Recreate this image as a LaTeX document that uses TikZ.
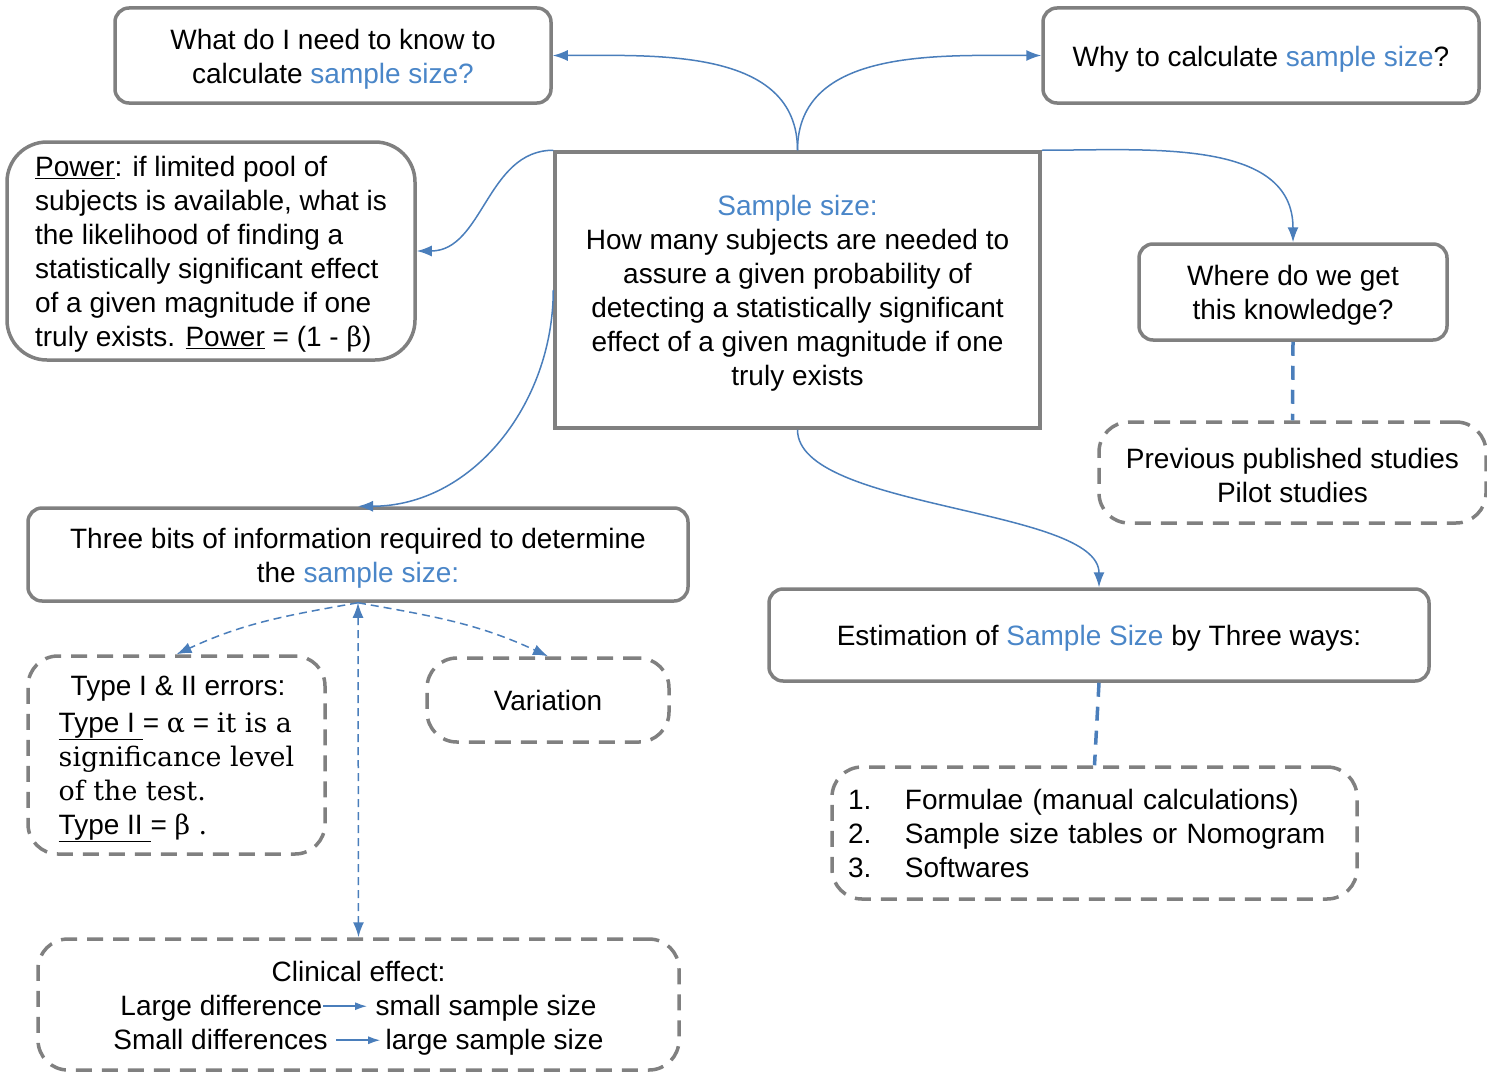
\documentclass[tikz,border=0pt]{standalone}
\usepackage{fontspec}
\setmainfont{Liberation Sans}
\newfontfamily\serifgreek{DejaVu Serif}[Scale=0.96]
\usetikzlibrary{arrows.meta,positioning}
\definecolor{sblue}{HTML}{4A86C8}
\definecolor{lblue}{HTML}{4A7EBB}
\definecolor{bgray}{HTML}{808080}
\newcommand{\blu}[1]{\textcolor{sblue}{#1}}
\newcommand{\hd}{\rule{0pt}{27pt}}
\newcommand{\rarr}{\tikz[baseline=-0.6ex]\draw[lblue,line width=1.5pt,-{Latex[length=12pt,width=8pt]}] (0pt,0pt) -- (44pt,0pt);}

\begin{document}
\begin{tikzpicture}[x=1pt,y=1pt,
    every node/.style={font=\fontsize{28}{34}\selectfont},
    qbox/.style={draw=bgray, line width=3.5pt, rounded corners=14pt, align=center, inner sep=0pt},
    dbox/.style={qbox, dash pattern=on 16pt off 10pt, rounded corners=30pt},
    link/.style={lblue, line width=1.5pt, -{Latex[length=15pt,width=11pt]}},
    dlink/.style={link, dash pattern=on 8pt off 5pt},
    tie/.style={lblue, line width=3.5pt, dash pattern=on 14pt off 10pt}]
    \useasboundingbox (0,0) rectangle (1487,-1073);

    % questions
    \node[qbox, minimum width=436pt, minimum height=95pt] (know) at (333,-55.5) {\hd What do I need to know to\\calculate \blu{sample size?}};
    \node[qbox, minimum width=436pt, minimum height=95pt] (why) at (1261,-55.5) {\hd Why to calculate \blu{sample size}?};
    \node[qbox, rounded corners=40pt, align=left, minimum width=408pt, minimum height=218pt] (power) at (211,-251)
        {\hd\underline{Power}: if limited pool of\\subjects is available, what is\\the likelihood of finding a\\statistically significant effect\\of a given magnitude if one\\truly exists. \underline{Power} = (1 - {\serifgreek β})};
    \node[draw=bgray, line width=3.5pt, align=center, minimum width=485pt, minimum height=276pt] (size) at (797.5,-290)
        {\hd\blu{Sample size:}\\How many subjects are needed to\\assure a given probability of\\detecting a statistically significant\\effect of a given magnitude if one\\truly exists};
    \node[qbox, minimum width=308pt, minimum height=96pt] (where) at (1293,-292) {\hd Where do we get\\this knowledge?};
    \node[dbox, minimum width=387pt, minimum height=101pt] (prev) at (1292.5,-472.5) {\hd Previous published studies\\Pilot studies};

    % what is needed
    \node[qbox, minimum width=660pt, minimum height=93pt] (bits) at (358,-554.5) {\hd Three bits of information required to determine\\the \blu{sample size:}};
    \node[qbox, minimum width=660pt, minimum height=92pt] (ways) at (1099,-635) {\hd Estimation of \blu{Sample Size} by Three ways:};
    \node[dbox, align=left, minimum width=297pt, minimum height=198pt] (errors) at (176.5,-755)
        {\hd\hspace*{12pt}Type I \& II errors:\\[3pt]\underline{Type I\ }= {\serifgreek α} = {\serifgreek it is a}\\{\serifgreek significance level}\\{\serifgreek of the test.}\\\underline{Type II\ }= {\serifgreek β .}};
    \node[dbox, minimum width=242pt, minimum height=84pt] (variation) at (548,-700) {Variation};
    \node[dbox, align=left, text width=493pt, inner xsep=16pt, minimum width=525pt, minimum height=132pt] (tools) at (1094.5,-833)
        {\makebox[57pt][l]{1.}Formulae (manual calculations)\\\makebox[57pt][l]{2.}Sample size tables or Nomogram\\\makebox[57pt][l]{3.}Softwares};
    \node[dbox, minimum width=641pt, minimum height=131pt] (clinical) at (358.5,-1004.5)
        {\hd Clinical effect:\\Large difference\rarr\ small sample size\\Small differences \rarr\,large sample size};

    % connectors
    \draw[link] (size.north) to[out=90,in=0] (know.east);
    \draw[link] (size.north) to[out=90,in=180] (why.west);
    \draw[link] (size.north west) to[out=180,in=0] (power.east);
    \draw[link] (size.west) to[out=270,in=0] (bits.north);
    \draw[link] (size.north east) to[out=0,in=90] (where.north);
    \draw[link] (size.south) to[out=270,in=90,looseness=0.6] (ways.north);
    \draw[tie] (where.south) -- (prev.north);
    \draw[tie] (ways.south) -- (tools.north);
    \draw[dlink] (bits.south) to[out=190,in=25] (errors.north);
    \draw[dlink] (bits.south) to[out=-10,in=155] (variation.north);
    \draw[dlink, {Latex[length=15pt,width=11pt]}-{Latex[length=15pt,width=11pt]}] (bits.south) -- (clinical.north);
\end{tikzpicture}
\end{document}
